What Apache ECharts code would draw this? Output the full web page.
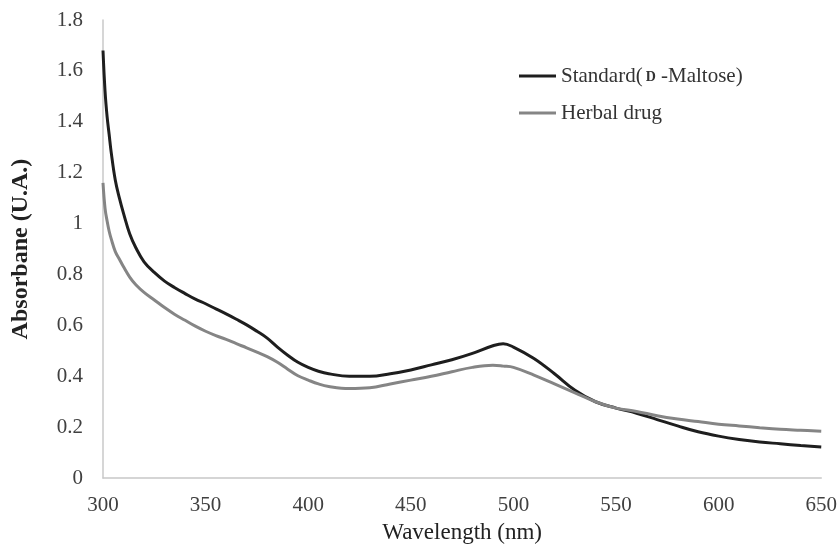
<!DOCTYPE html>
<html>
<head>
<meta charset="utf-8">
<script src="https://cdn.jsdelivr.net/npm/echarts@6/dist/echarts.min.js"></script>
<style>html,body{margin:0;padding:0;background:#fff}#c{width:840px;height:549px}</style>
</head>
<body>
<div id="c"></div>
<script>
const wavelengths = [300,301,302,303,304,306,308,310,313,316,320,325,330,335,340,345,350,355,360,365,370,375,380,385,390,395,400,405,410,420,430,440,450,460,470,480,490,495,500,510,520,530,540,550,560,570,580,590,600,610,620,630,640,650];
const standardMaltose = [1.68,1.52,1.42,1.35,1.28,1.17,1.10,1.04,0.96,0.905,0.85,0.808,0.774,0.748,0.725,0.703,0.685,0.665,0.645,0.624,0.602,0.577,0.55,0.515,0.483,0.455,0.435,0.42,0.41,0.40,0.40,0.41,0.425,0.445,0.465,0.49,0.52,0.528,0.515,0.47,0.41,0.345,0.30,0.275,0.255,0.23,0.205,0.182,0.165,0.152,0.142,0.135,0.128,0.122];
const herbalDrug = [1.16,1.06,1.01,0.97,0.94,0.89,0.86,0.83,0.79,0.76,0.73,0.70,0.67,0.643,0.62,0.597,0.577,0.56,0.545,0.528,0.512,0.495,0.477,0.455,0.428,0.402,0.385,0.37,0.36,0.352,0.355,0.37,0.385,0.40,0.418,0.435,0.443,0.44,0.435,0.405,0.37,0.335,0.30,0.275,0.262,0.245,0.232,0.222,0.212,0.205,0.198,0.192,0.188,0.184];
const seriesNames = ['Standard (D-Maltose)', 'Herbal drug'];
const xTicks = [300,350,400,450,500,550,600,650];
const yTicks = [0,0.2,0.4,0.6,0.8,1,1.2,1.4,1.6,1.8];

const font = 'Liberation Serif, Times New Roman, serif';
const chart = echarts.init(document.getElementById('c'));
chart.setOption({
  animation: false,
  grid: {left: 103, right: 18, top: 20, bottom: 70},
  legend: {
    orient: 'vertical', left: 519, top: 66, itemGap: 16, padding: 0,
    itemWidth: 37, itemHeight: 3, icon: 'rect',
    formatter: function (n) { return n === seriesNames[0] ? '{t|Standard(}{sc|D}{t| -Maltose)}' : '{t|' + n + '}'; },
    textStyle: {fontFamily: font, fontSize: 21, color: '#333',
      rich: {
        t: {fontFamily: font, fontSize: 21, color: '#333', lineHeight: 22, verticalAlign: 'bottom'},
        sc: {fontFamily: font, fontSize: 14, fontWeight: 'bold', color: '#333', padding: [0,0,3,3], lineHeight: 14, verticalAlign: 'bottom'}
      }}
  },
  xAxis: {
    type: 'value', min: xTicks[0], max: xTicks[xTicks.length-1], interval: 50,
    name: 'Wavelength (nm)', nameLocation: 'middle', nameGap: 40,
    nameTextStyle: {fontFamily: font, fontSize: 23, color: '#222'},
    axisLine: {show: true, lineStyle: {color: '#c8c8c8', width: 1.5}},
    axisTick: {show: false}, splitLine: {show: false},
    axisLabel: {fontFamily: font, fontSize: 21, color: '#404040', margin: 17}
  },
  yAxis: {
    type: 'value', min: yTicks[0], max: yTicks[yTicks.length-1], interval: 0.2,
    name: 'Absorbane (U.A.)', nameLocation: 'middle', nameGap: 70, nameRotate: 90,
    nameTextStyle: {fontFamily: font, fontSize: 24, fontWeight: 'bold', color: '#222'},
    axisLine: {show: true, lineStyle: {color: '#c8c8c8', width: 1.5}},
    axisTick: {show: false}, splitLine: {show: false},
    axisLabel: {fontFamily: font, fontSize: 21, color: '#404040', margin: 20,
      formatter: function (v) { return String(Math.round(v*10)/10); }}
  },
  series: [
    {name: seriesNames[0], type: 'line', smooth: 0.4, showSymbol: false,
     data: wavelengths.map((w,i)=>[w, standardMaltose[i]]),
     lineStyle: {color: '#1e1e1e', width: 3}, itemStyle: {color: '#1e1e1e'}},
    {name: seriesNames[1], type: 'line', smooth: 0.4, showSymbol: false,
     data: wavelengths.map((w,i)=>[w, herbalDrug[i]]),
     lineStyle: {color: '#858585', width: 3}, itemStyle: {color: '#858585'}}
  ]
});
</script>
</body>
</html>
